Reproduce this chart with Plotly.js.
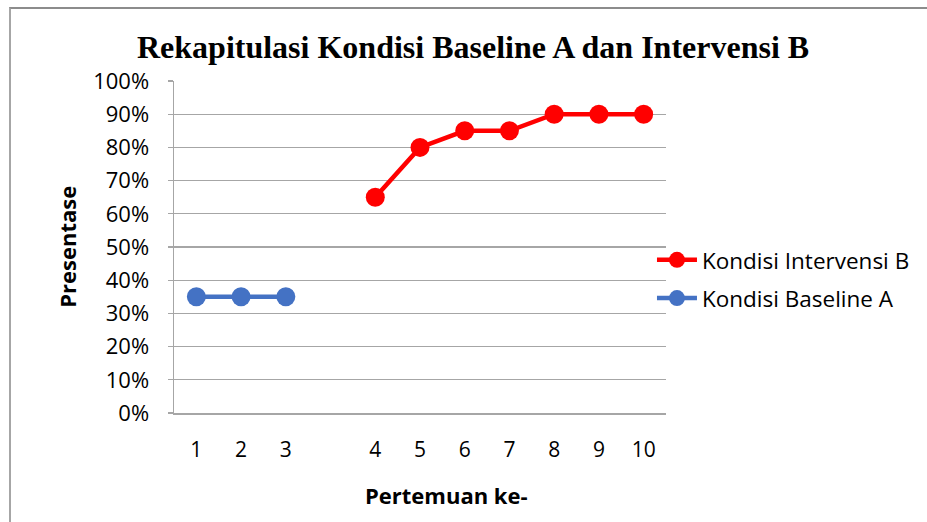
<!DOCTYPE html>
<html>
<head>
<meta charset="utf-8">
<script src="https://cdn.plot.ly/plotly-3.0.1.min.js"></script>
<style>
  html, body { margin: 0; padding: 0; background: #fff; }
  #wrap { position: relative; width: 927px; height: 522px; overflow: hidden; }
  #frame { position: absolute; left: 9px; top: 7px; width: 940px; height: 540px;
           border-left: 2px solid #a6a6a6; border-top: 2px solid #8c8c8c; pointer-events: none; }
  #chart { position: absolute; left: 0; top: 0; width: 927px; height: 522px; }
</style>
</head>
<body>
<div id="wrap">
  <div id="chart"></div>
  <div id="frame"></div>
</div>
<script>
const categories = ['1', '2', '3', ' ', '4', '5', '6', '7', '8', '9', '10'];
const baselineA = [35, 35, 35, null, null, null, null, null, null, null, null];
const intervensiB = [null, null, null, null, 65, 80, 85, 85, 90, 90, 90];
const yTicks = [0, 10, 20, 30, 40, 50, 60, 70, 80, 90, 100];
const yTickLabels = yTicks.map(v => v + '%');

const sans = 'Open Sans, Noto Sans, sans-serif';

const traces = [
  {
    type: 'scatter', mode: 'lines+markers', name: 'Kondisi Baseline A',
    x: categories, y: baselineA, legendgroup: 'a', legendrank: 2,
    line: { color: '#4472C4', width: 4.5 },
    marker: { color: '#4472C4', size: 19 },
    connectgaps: false
  },
  {
    type: 'scatter', mode: 'lines+markers', name: 'Kondisi Intervensi B',
    x: categories, y: intervensiB, legendgroup: 'b', legendrank: 1,
    line: { color: '#FF0000', width: 4.5 },
    marker: { color: '#FF0000', size: 19 },
    connectgaps: false
  }
];

const layout = {
  width: 927, height: 522,
  margin: { l: 174, r: 261, t: 81, b: 109, pad: 0 },
  paper_bgcolor: 'rgba(0,0,0,0)',
  plot_bgcolor: '#fff',
  title: {
    text: '<b>Rekapitulasi Kondisi Baseline A dan Intervensi B</b>',
    font: { family: 'Liberation Serif, Times New Roman, serif', size: 32, color: '#000' },
    x: 0.5103, xanchor: 'center', y: 0.91, yanchor: 'middle', xref: 'container'
  },
  xaxis: {
    type: 'category',
    categoryorder: 'array', categoryarray: categories,
    range: [-0.5, 10.5],
    showgrid: false, zeroline: false,
    showline: true, linecolor: '#a6a6a6', linewidth: 1.5,
    ticks: '', ticklabelstandoff: 17,
    tickfont: { family: sans, size: 21, color: '#000' },
    fixedrange: true
  },
  yaxis: {
    range: [0, 100],
    tickvals: yTicks, ticktext: yTickLabels,
    showgrid: true, gridcolor: '#a6a6a6', gridwidth: 1.2,
    zeroline: false,
    showline: true, linecolor: '#a6a6a6', linewidth: 1.5,
    ticks: 'outside', ticklen: 5, tickcolor: '#a6a6a6', tickwidth: 1.2,
    ticklabelstandoff: 14,
    tickfont: { family: sans, size: 22, color: '#000' },
    fixedrange: true
  },
  showlegend: true,
  legend: {
    traceorder: 'grouped',
    x: 0.9715, xanchor: 'left', y: 0.525, yanchor: 'top',
    font: { family: sans, size: 22.5, color: '#000' },
    bgcolor: 'rgba(0,0,0,0)', tracegroupgap: 6, itemwidth: 40
  },
  annotations: [
    {
      text: '<b>Presentase</b>', textangle: -90,
      xref: 'paper', yref: 'paper', x: -0.218, y: 0.5,
      xanchor: 'center', yanchor: 'middle', showarrow: false,
      font: { family: sans, size: 22, color: '#000' }
    },
    {
      text: '<b>Pertemuan ke-</b>',
      xref: 'paper', yref: 'paper', x: 0.553, y: -0.248,
      xanchor: 'center', yanchor: 'middle', showarrow: false,
      font: { family: sans, size: 22, color: '#000' }
    }
  ]
};

Plotly.newPlot('chart', traces, layout, { displayModeBar: false, staticPlot: true });
</script>
</body>
</html>
